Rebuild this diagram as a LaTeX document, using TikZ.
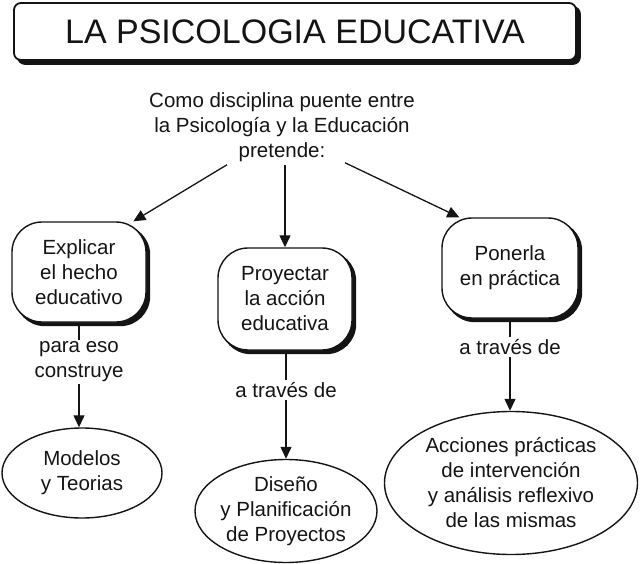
\documentclass[tikz,border=0pt]{standalone}
\usepackage{fontspec}
\setmainfont{Liberation Sans}
\usepackage{tikz}
\usetikzlibrary{arrows.meta, shapes.geometric, positioning, backgrounds}
\definecolor{InkBlack}{RGB}{20,20,20}

\begin{document}
\begin{tikzpicture}[x=1pt, y=-1pt,
	every node/.style={text=InkBlack, font=\fontsize{20.5}{25}\selectfont, align=center},
	caja/.style={draw=InkBlack, line width=1.4pt, fill=white, rounded corners=30pt,
		minimum width=134pt, minimum height=100pt},
	ovalo/.style={draw=InkBlack, line width=1.4pt, ellipse, inner sep=-20pt},
	enlace/.style={inner sep=2pt},
	flecha/.style={InkBlack, line width=1.3pt, -{Triangle[length=12pt, width=11pt]}},
	linea/.style={InkBlack, line width=1.3pt}]
	\useasboundingbox (0,0) rectangle (640,564);

	% titulo
	\node[draw=InkBlack, line width=1.8pt, fill=white, rounded corners=7pt,
		minimum width=562pt, minimum height=57pt, font=\fontsize{34}{38}\selectfont]
		(titulo) at (295,31.5) {LA PSICOLOGIA EDUCATIVA};

	% texto central
	\node[inner sep=3pt] (intro) at (282,127)
		{Como disciplina puente entre\\la Psicología y la Educación\\pretende:};
	\coordinate (salidaI) at ([xshift=-55pt]intro.south);
	\coordinate (salidaD) at ([xshift=63pt, yshift=2pt]intro.south);

	% tres fines
	\node[caja] (explicar) at (79,272) {Explicar\\el hecho\\educativo};
	\node[caja, minimum height=102pt] (proyectar) at (285,299) {Proyectar\\la acción\\educativa};
	\node[caja, minimum width=136pt] (ponerla) at (510,268) {Ponerla\\en práctica};

	% sombras
	\begin{scope}[on background layer]
		\fill[InkBlack, rounded corners=8pt] ([shift={(4,4)}]titulo.north west)
			rectangle ([shift={(4,4)}]titulo.south east);
		\foreach \caja in {explicar, proyectar, ponerla}
			\fill[InkBlack, rounded corners=30pt] ([shift={(3.5,3.5)}]\caja.north west)
				rectangle ([shift={(3.5,3.5)}]\caja.south east);
	\end{scope}

	\draw[flecha] (salidaI) -- (explicar.43);
	\draw[flecha] (intro.south -| proyectar.north) -- (proyectar.north);
	\draw[flecha] (salidaD) -- (ponerla.135);

	% enlaces intermedios
	\node[enlace] (paraeso) at (79,362) {para eso\\construye};
	\node[enlace] (atravesC) at (286,390) {a través de};
	\node[enlace] (atravesD) at (510,347) {a través de};

	% resultados
	\node[ovalo, minimum width=160pt, minimum height=90pt] (modelos) at (82,473) {Modelos\\y Teorias};
	\node[ovalo, minimum width=182pt, minimum height=103pt] (diseno) at (286,511)
		{Diseño\\y Planificación\\de Proyectos};
	\node[ovalo, minimum width=253pt, minimum height=143pt] (acciones) at (511,483)
		{Acciones prácticas\\de intervención\\y análisis reflexivo\\de las mismas};

	\draw[linea] (explicar.south -| paraeso.north) -- (paraeso.north);
	\draw[flecha] (paraeso) -- (paraeso.south |- modelos.north);
	\draw[linea] (proyectar.south -| atravesC.north) -- (atravesC.north);
	\draw[flecha] (atravesC) -- (atravesC.south |- diseno.north);
	\draw[linea] (ponerla.south -| atravesD.north) -- (atravesD.north);
	\draw[flecha] (atravesD) -- (atravesD.south |- acciones.north);
\end{tikzpicture}
\end{document}
